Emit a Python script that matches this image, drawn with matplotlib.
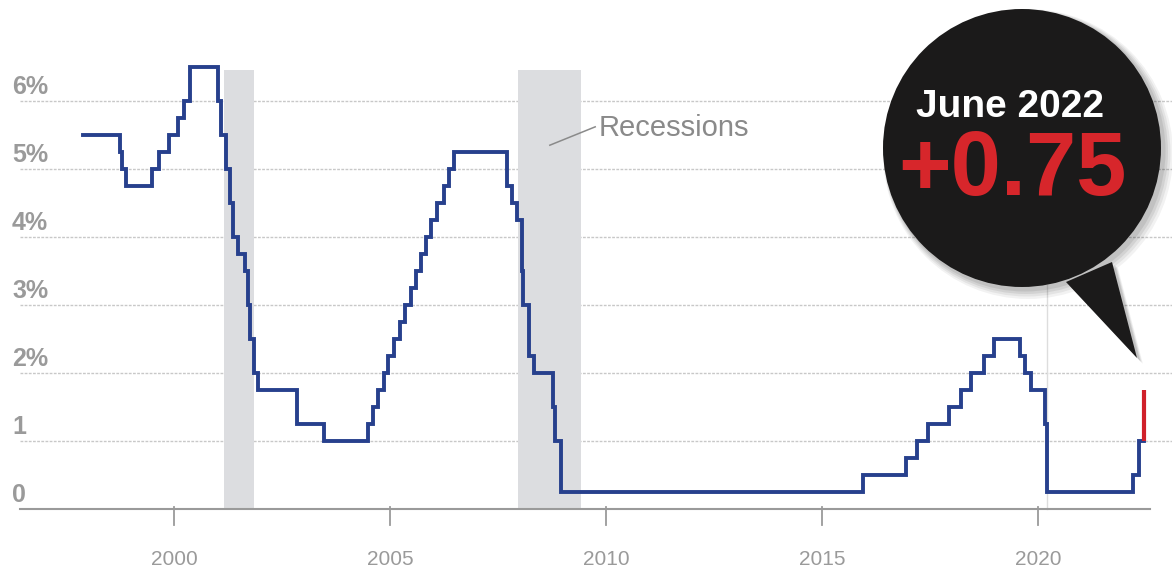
import numpy as np
import matplotlib
matplotlib.use("Agg")
import matplotlib.pyplot as plt
from matplotlib.patches import Circle, Polygon

# fed funds target (upper bound), step changes as decimal years
dates = [1997.90, 1998.74, 1998.79, 1998.88, 1999.50, 1999.65, 1999.88, 2000.09,
         2000.22, 2000.37, 2001.01, 2001.08, 2001.21, 2001.30, 2001.37, 2001.49,
         2001.64, 2001.71, 2001.75, 2001.85, 2001.94, 2002.85, 2003.48, 2004.50,
         2004.61, 2004.72, 2004.86, 2004.95, 2005.09, 2005.22, 2005.34, 2005.49,
         2005.61, 2005.72, 2005.83, 2005.95, 2006.08, 2006.24, 2006.36, 2006.49,
         2007.71, 2007.83, 2007.94, 2008.06, 2008.08, 2008.21, 2008.33, 2008.77,
         2008.83, 2008.96, 2015.96, 2016.95, 2017.20, 2017.45, 2017.95, 2018.22,
         2018.45, 2018.74, 2018.97, 2019.58, 2019.71, 2019.83, 2020.17, 2020.20,
         2022.21, 2022.34, 2022.46]
rates = [5.5, 5.25, 5.0, 4.75, 5.0, 5.25, 5.5, 5.75,
         6.0, 6.5, 6.0, 5.5, 5.0, 4.5, 4.0, 3.75,
         3.5, 3.0, 2.5, 2.0, 1.75, 1.25, 1.0, 1.25,
         1.5, 1.75, 2.0, 2.25, 2.5, 2.75, 3.0, 3.25,
         3.5, 3.75, 4.0, 4.25, 4.5, 4.75, 5.0, 5.25,
         4.75, 4.5, 4.25, 3.5, 3.0, 2.25, 2.0, 1.5,
         1.0, 0.25, 0.5, 0.75, 1.0, 1.25, 1.5, 1.75,
         2.0, 2.25, 2.5, 2.25, 2.0, 1.75, 1.25, 0.25,
         0.5, 1.0, 1.0]

june_date = 2022.46
prev_rate = 1.0
new_rate = 1.75

recessions = [(2001.16, 2001.85), (2007.96, 2009.42)]
rec_top = 6.45

yticks = [0, 1, 2, 3, 4, 5, 6]
ylabels = ["0", "1", "2%", "3%", "4%", "5%", "6%"]
xticks = [2000, 2005, 2010, 2015, 2020]

W, H = 1172, 571
fig = plt.figure(figsize=(W / 100, H / 100), dpi=100)
ax = fig.add_axes([0, 0, 1, 1])
# pixel mapping: 2000 -> 174px, 43.2 px/year; 0% -> 509px, 68 px per point
ax.set_xlim(2000 - 174 / 43.2, 2000 + (W - 174) / 43.2)
ax.set_ylim(-(H - 509) / 68, 509 / 68)
ax.axis("off")

x_left = 2000 - 154 / 43.2
x_right = 2000 + (1150 - 174) / 43.2

for lo, hi in recessions:
    ax.fill_between([lo, hi], 0, rec_top, color="#dcdde0", lw=0, zorder=1)

for v in yticks[1:]:
    ax.plot([x_left, ax.get_xlim()[1]], [v, v], color="#c8c8c8", lw=1,
            ls=(0, (2, 1)), zorder=0.5)
for v, lab in zip(yticks, ylabels):
    ax.text(1996.25, v + 0.21, lab, ha="left", va="center", fontsize=18,
            color="#9a9a9a", fontweight="bold", family="Liberation Sans")

ax.plot([x_left, x_right], [0, 0], color="#9a9a9a", lw=1.5, zorder=2)
for xt in xticks:
    ax.plot([xt, xt], [0.03, -0.24], color="#9a9a9a", lw=1.3, zorder=2)
    ax.text(xt, -0.74, str(xt), ha="center", va="center", fontsize=15,
            color="#9a9a9a", family="Liberation Sans")

# faint marker line below the bubble
ax.plot([2020.21, 2020.21], [0, 3.3], color="#dddddd", lw=1, zorder=0.6)

ax.step(dates, rates, where="post", color="#27408d", lw=2.8, zorder=3,
        solid_joinstyle="miter")
ax.plot([june_date, june_date], [prev_rate, new_rate], color="#d0202a",
        lw=3, zorder=4, solid_capstyle="butt")

ax.plot([2008.70, 2009.75], [5.35, 5.62], color="#8a8a8a", lw=1.1)
ax.text(2009.82, 5.60, "Recessions", ha="left", va="center", fontsize=21,
        color="#8a8a8a", family="Liberation Sans")

# speech bubble in pixel coordinates
ov = fig.add_axes([0, 0, 1, 1])
ov.set_xlim(0, W)
ov.set_ylim(H, 0)
ov.axis("off")
ov.patch.set_alpha(0)
cx, cy, r = 1022, 148, 139
tail = [(1066, 282), (1112, 262), (1137, 358)]
for k, a in enumerate([0.05, 0.06, 0.07, 0.08]):
    dx = 6 - k
    ov.add_patch(Circle((cx + dx, cy + dx), r + 6 - k * 1.5, color="black",
                        alpha=a, lw=0))
    ov.add_patch(Polygon([(x + dx, y + dx) for x, y in tail], closed=True,
                         color="black", alpha=a, lw=0))
ov.add_patch(Circle((cx, cy), r, color="#1b1a1a", lw=0, zorder=5))
ov.add_patch(Polygon(tail, closed=True, color="#1b1a1a", lw=0, zorder=5))
ov.text(1010, 107, "June 2022", ha="center", va="center", fontsize=28,
        color="white", fontweight="bold", family="Liberation Sans", zorder=6)
ov.text(1012, 172, "+0.75", ha="center", va="center", fontsize=65,
        color="#d7262b", fontweight="bold", family="Liberation Sans", zorder=6)

fig.savefig("out.png", dpi=100)
